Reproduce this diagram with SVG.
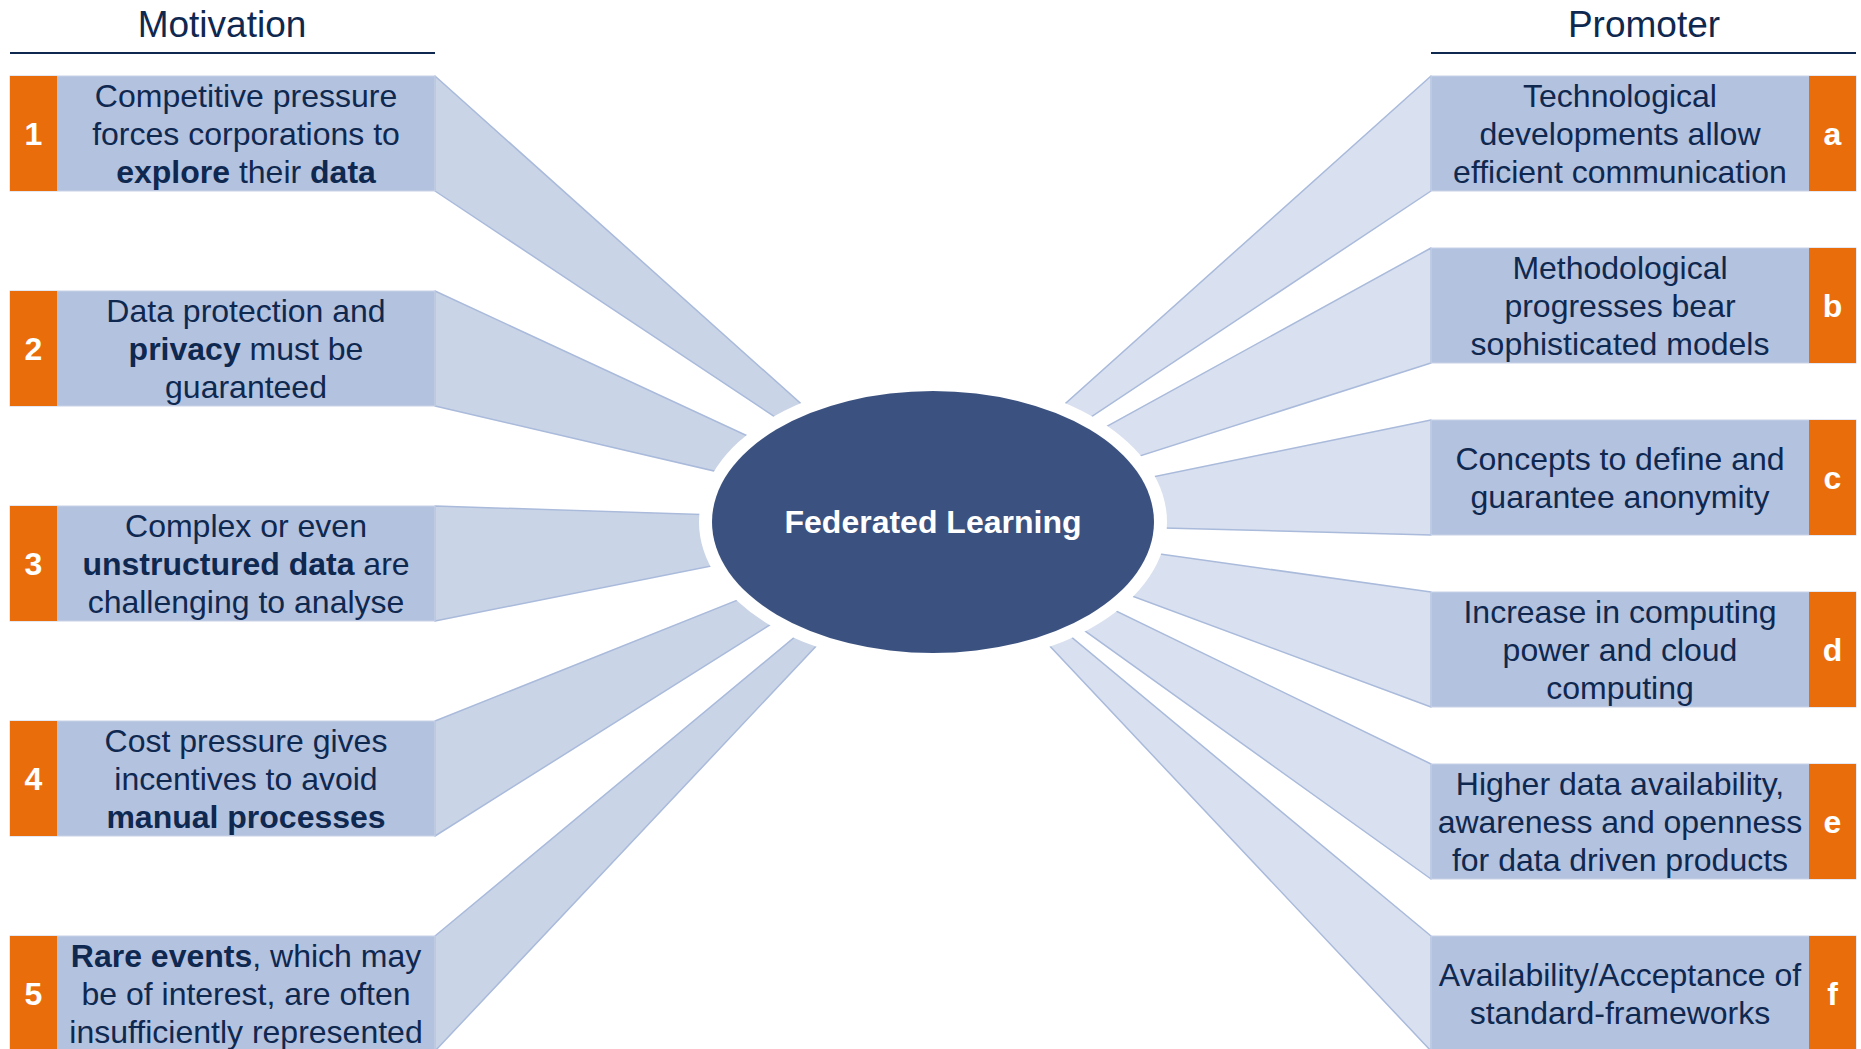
<svg xmlns="http://www.w3.org/2000/svg" width="1861" height="1049" viewBox="0 0 1861 1049">
  <style>
    text { font-family: "Liberation Sans", Arial, sans-serif; }
    .title { font-size: 37px; fill: #0F2850; text-anchor: middle; }
    .rule { stroke: #0F2850; stroke-width: 2; }
    .box { fill: #B3C2DE; stroke: #C8D2E7; stroke-width: 1; }
    .tag { fill: #EA6D0C; }
    .label { font-size: 32px; fill: #0F2850; text-anchor: middle; }
    .label tspan.b { font-weight: bold; }
    .num { font-size: 32px; font-weight: bold; fill: #FFFFFF; text-anchor: middle; }
    .rayL { fill: #CAD4E7; stroke: #A9BADB; stroke-width: 1.5; stroke-linejoin: round; }
    .rayR { fill: #D9E0EF; stroke: #A9BADB; stroke-width: 1.5; stroke-linejoin: round; }
    .halo { fill: #FFFFFF; }
    .core { fill: #3B5280; }
    .coreText { font-size: 32px; font-weight: bold; fill: #FFFFFF; text-anchor: middle; }
  </style>

  <rect width="1861" height="1049" fill="#FFFFFF"/>

  <!-- column headings -->
  <g id="heading-motivation">
    <text class="title" x="222" y="37">Motivation</text>
    <line class="rule" x1="10" y1="53" x2="435" y2="53"/>
  </g>
  <g id="heading-promoter">
    <text class="title" x="1644" y="37">Promoter</text>
    <line class="rule" x1="1431" y1="53" x2="1856" y2="53"/>
  </g>

  <!-- rays from each box toward the centre -->
  <g id="connectors">
    <polygon class="rayL" points="435,76 933,522 435,191"/>
    <polygon class="rayL" points="435,291 933,522 435,406"/>
    <polygon class="rayL" points="435,506 933,522 435,621"/>
    <polygon class="rayL" points="435,721 933,522 435,836"/>
    <polygon class="rayL" points="435,936 933,522 435,1051"/>
    <polygon class="rayR" points="1431,76 933,522 1431,191"/>
    <polygon class="rayR" points="1431,248 933,522 1431,363"/>
    <polygon class="rayR" points="1431,420 933,522 1431,535"/>
    <polygon class="rayR" points="1431,592 933,522 1431,707"/>
    <polygon class="rayR" points="1431,764 933,522 1431,879"/>
    <polygon class="rayR" points="1431,936 933,522 1431,1051"/>
  </g>

  <!-- centre -->
  <g id="federated-learning">
    <ellipse class="halo" cx="933" cy="522" rx="234" ry="144"/>
    <ellipse class="core" cx="933" cy="522" rx="221" ry="131"/>
    <text class="coreText" x="933" y="533">Federated Learning</text>
  </g>

  <!-- motivation boxes -->
  <g id="motivation-1">
    <rect class="box" x="10" y="76" width="425" height="115"/>
    <rect class="tag" x="10" y="76" width="47" height="115"/>
    <text class="num" x="33.5" y="145">1</text>
    <text class="label" x="246" y="107">Competitive pressure</text>
    <text class="label" x="246" y="145">forces corporations to</text>
    <text class="label" x="246" y="183"><tspan class="b">explore</tspan> their <tspan class="b">data</tspan></text>
  </g>
  <g id="motivation-2">
    <rect class="box" x="10" y="291" width="425" height="115"/>
    <rect class="tag" x="10" y="291" width="47" height="115"/>
    <text class="num" x="33.5" y="360">2</text>
    <text class="label" x="246" y="322">Data protection and</text>
    <text class="label" x="246" y="360"><tspan class="b">privacy</tspan> must be</text>
    <text class="label" x="246" y="398">guaranteed</text>
  </g>
  <g id="motivation-3">
    <rect class="box" x="10" y="506" width="425" height="115"/>
    <rect class="tag" x="10" y="506" width="47" height="115"/>
    <text class="num" x="33.5" y="575">3</text>
    <text class="label" x="246" y="537">Complex or even</text>
    <text class="label" x="246" y="575"><tspan class="b">unstructured data</tspan> are</text>
    <text class="label" x="246" y="613">challenging to analyse</text>
  </g>
  <g id="motivation-4">
    <rect class="box" x="10" y="721" width="425" height="115"/>
    <rect class="tag" x="10" y="721" width="47" height="115"/>
    <text class="num" x="33.5" y="790">4</text>
    <text class="label" x="246" y="752">Cost pressure gives</text>
    <text class="label" x="246" y="790">incentives to avoid</text>
    <text class="label" x="246" y="828"><tspan class="b">manual processes</tspan></text>
  </g>
  <g id="motivation-5">
    <rect class="box" x="10" y="936" width="425" height="115"/>
    <rect class="tag" x="10" y="936" width="47" height="115"/>
    <text class="num" x="33.5" y="1005">5</text>
    <text class="label" x="246" y="967"><tspan class="b">Rare events</tspan>, which may</text>
    <text class="label" x="246" y="1005">be of interest, are often</text>
    <text class="label" x="246" y="1043">insufficiently represented</text>
  </g>

  <!-- promoter boxes -->
  <g id="promoter-a">
    <rect class="box" x="1431" y="76" width="425" height="115"/>
    <rect class="tag" x="1809" y="76" width="47" height="115"/>
    <text class="num" x="1832.5" y="145">a</text>
    <text class="label" x="1620" y="107">Technological</text>
    <text class="label" x="1620" y="145">developments allow</text>
    <text class="label" x="1620" y="183">efficient communication</text>
  </g>
  <g id="promoter-b">
    <rect class="box" x="1431" y="248" width="425" height="115"/>
    <rect class="tag" x="1809" y="248" width="47" height="115"/>
    <text class="num" x="1832.5" y="317">b</text>
    <text class="label" x="1620" y="279">Methodological</text>
    <text class="label" x="1620" y="317">progresses bear</text>
    <text class="label" x="1620" y="355">sophisticated models</text>
  </g>
  <g id="promoter-c">
    <rect class="box" x="1431" y="420" width="425" height="115"/>
    <rect class="tag" x="1809" y="420" width="47" height="115"/>
    <text class="num" x="1832.5" y="489">c</text>
    <text class="label" x="1620" y="470">Concepts to define and</text>
    <text class="label" x="1620" y="508">guarantee anonymity</text>
  </g>
  <g id="promoter-d">
    <rect class="box" x="1431" y="592" width="425" height="115"/>
    <rect class="tag" x="1809" y="592" width="47" height="115"/>
    <text class="num" x="1832.5" y="661">d</text>
    <text class="label" x="1620" y="623">Increase in computing</text>
    <text class="label" x="1620" y="661">power and cloud</text>
    <text class="label" x="1620" y="699">computing</text>
  </g>
  <g id="promoter-e">
    <rect class="box" x="1431" y="764" width="425" height="115"/>
    <rect class="tag" x="1809" y="764" width="47" height="115"/>
    <text class="num" x="1832.5" y="833">e</text>
    <text class="label" x="1620" y="795">Higher data availability,</text>
    <text class="label" x="1620" y="833">awareness and openness</text>
    <text class="label" x="1620" y="871">for data driven products</text>
  </g>
  <g id="promoter-f">
    <rect class="box" x="1431" y="936" width="425" height="115"/>
    <rect class="tag" x="1809" y="936" width="47" height="115"/>
    <text class="num" x="1832.5" y="1005">f</text>
    <text class="label" x="1620" y="986">Availability/Acceptance of</text>
    <text class="label" x="1620" y="1024">standard-frameworks</text>
  </g>
</svg>
